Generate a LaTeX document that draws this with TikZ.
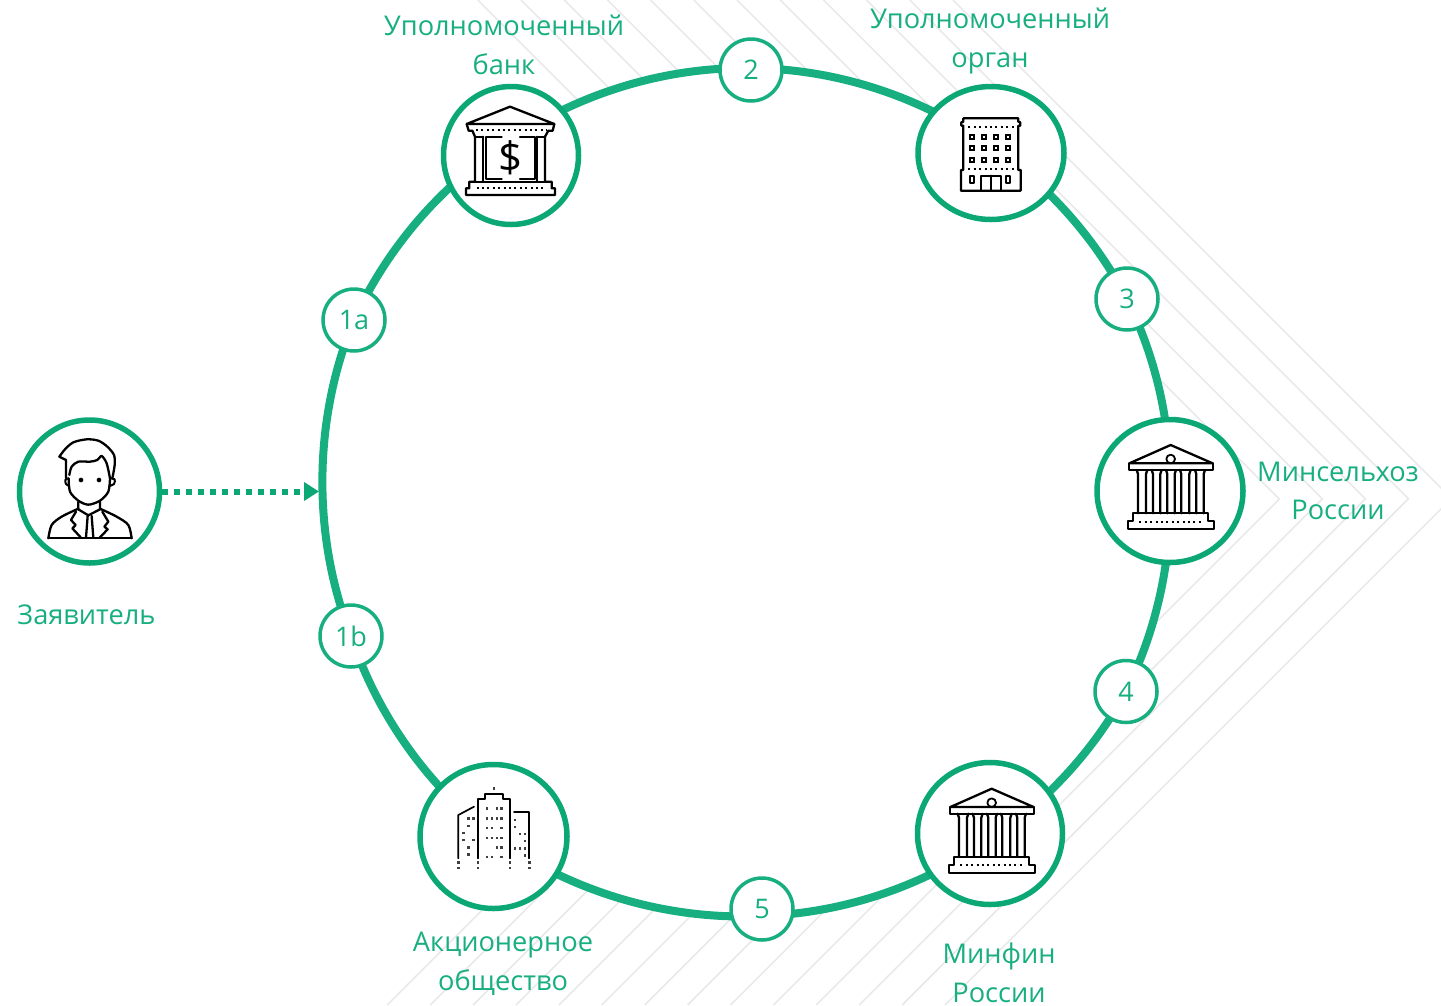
\documentclass[tikz,border=0pt]{standalone}
\usepackage{fontspec}
\setmainfont{Open Sans}
\usetikzlibrary{shapes.geometric,arrows.meta}
\pgfdeclarelayer{hatchlayer}
\pgfdeclarelayer{connlayer}
\pgfsetlayers{hatchlayer,connlayer,main}
\definecolor{gr}{HTML}{0BA876}
\definecolor{grl}{HTML}{17AE80}
\definecolor{hatchc}{HTML}{E9E9E9}
\tikzset{
  bigring/.style={ellipse,draw=gr,fill=white,line width=5.5pt,inner sep=0pt},
  smallring/.style={circle,draw=grl,fill=white,line width=3.5pt,inner sep=0pt,minimum size=62pt,text=grl,font=\fontsize{27}{30}\selectfont},
  lbl/.style={text=grl,align=center,inner sep=0pt,font=\fontsize{27.2}{38.5}\selectfont},
  ringarc/.style={grl,line width=8pt},
  ic/.style={line width=2.3pt,black,line join=round,line cap=round},
  icondots/.style={black,line width=2pt,dash pattern=on 2pt off 3.4pt},
}
\newcommand{\templeicon}[2]{%
  \begin{scope}[shift={(#1,#2)},scale=1/3]
    \draw[ic] (118,160) -- (242,105) -- (368,160) -- cycle;
    \draw[ic] (118,160) -- (118,180) -- (368,180) -- (368,160);
    \draw[ic,line width=1.8pt] (242,147) circle[radius=13];
    \foreach \xa/\xb in {140/172,185/215,228/258,270/302,315/345}{
      \draw[ic] (\xa,180) -- (\xa+4,192) -- (\xa+4,310);
      \draw[ic] (\xb,180) -- (\xb-4,192) -- (\xb-4,310);
    }
    \draw[ic] (130,310) -- (355,310) -- (355,333) -- (372,333) -- (372,357) -- (115,357) -- (115,333) -- (130,333) -- cycle;
    \draw[icondots] (148,335) -- (338,335);
  \end{scope}}
\begin{document}
\begin{tikzpicture}[x=1pt,y=-1pt]
\useasboundingbox (0,0) rectangle (1441,1005);

% background hatch
\begin{pgfonlayer}{hatchlayer}
  \begin{scope}
    \clip (0,0) rectangle (1441,1005);
    \foreach \k in {0,...,11}{
      \pgfmathsetmacro{\s}{1950-42.9*\k}
      \pgfmathsetmacro{\d}{953-43.2*\k}
      \pgfmathsetmacro{\ax}{(\s+\d)/2}
      \pgfmathsetmacro{\ay}{(\s-\d)/2}
      \pgfmathsetmacro{\bx}{\s-1005}
      \draw[hatchc,line width=1.6pt] (\d,0) -- (\ax,\ay) -- (\bx,1005);
    }
    \foreach \k in {12,13}{
      \pgfmathsetmacro{\s}{1950-42.9*\k}
      \pgfmathsetmacro{\bx}{\s-1005}
      \pgfmathsetmacro{\tx}{\s-500}
      \draw[hatchc,line width=1.6pt] (\tx,500) -- (\bx,1005);
    }
    \fill[white] (746,492) circle[radius=424];
  \end{scope}
\end{pgfonlayer}

% main nodes
\node[bigring,minimum width=135pt,minimum height=138pt] (bank) at (511,155.5) {};
\node[bigring,minimum width=146pt,minimum height=133pt] (organ) at (991,153) {};
\node[bigring,minimum width=146pt,minimum height=143pt] (selhoz) at (1170,491) {};
\node[bigring,minimum width=145pt,minimum height=142pt] (minfin) at (990,833.5) {};
\node[bigring,minimum width=147pt,minimum height=144pt] (akc) at (493.5,836.5) {};
\node[bigring,minimum width=140pt,minimum height=143pt] (user) at (89.5,491.5) {};

\node[smallring] (n1a) at (354,320) {1a};
\node[smallring] (n1b) at (351,636) {1b};
\node[smallring] (n2) at (751,70) {2};
\node[smallring] (n3) at (1127,299) {3};
\node[smallring] (n4) at (1126,691.5) {4};
\node[smallring] (n5) at (762,909) {5};

% ring connectors
\begin{pgfonlayer}{connlayer}
  \coordinate (rbank) at ([shift={(-8,-10.5)}]bank.center);
  \coordinate (rorgan) at ([shift={(3.6,-4.4)}]organ.center);
  \coordinate (rminfin) at ([shift={(3,4)}]minfin.center);
  \coordinate (rfive) at ([shift={(0,7)}]n5.center);
  \coordinate (rtwo) at ([shift={(0,-2)}]n2.center);
  \draw[ringarc] (n1a.center) to[bend left=15.6,looseness=.87] (rbank);
  \draw[ringarc] (rbank) to[bend left=17.9,looseness=.87] (rtwo);
  \draw[ringarc] (rtwo) to[bend left=17.6,looseness=.87] (rorgan);
  \draw[ringarc] (rorgan) to[bend left=13.6,looseness=.87] (n3.center);
  \draw[ringarc] (n3.center) to[bend left=13.5,looseness=.87] (selhoz.center);
  \draw[ringarc] (selhoz.center) to[bend left=13.9,looseness=.87] (n4.center);
  \draw[ringarc] (n4.center) to[bend left=13.4,looseness=.87] (rminfin);
  \draw[ringarc] (rminfin) to[bend left=16.7,looseness=.87] (rfive);
  \draw[ringarc] (rfive) to[bend left=19.2,looseness=.87] (akc.center);
  \draw[ringarc] (akc.center) to[bend left=16.9,looseness=.87] (n1b.center);
  \draw[ringarc] (n1b.center) to[bend left=21.9,looseness=.87] (n1a.center);
\end{pgfonlayer}

% arrow from the applicant to the ring
\coordinate (ringpt) at (319,491.5);
\draw[gr,line width=6pt,dash pattern=on 6pt off 6pt,-{Triangle[width=18pt,length=15pt]}] (user.east) -- (ringpt);

% labels
\node[lbl] (tbank) at (504,45) {Уполномоченный\\банк};
\node[lbl] (torgan) at (990,41) {Уполномоченный\\орган};
\node[lbl] (tselhoz) at (1338,491) {Минсельхоз\\России};
\node[lbl] (tuser) at (86.5,615) {Заявитель};
\node[lbl] (takc) at (503,963.5) {Акционерное\\общество};
\node[lbl] (tminfin) at (999,973) {Минфин\\России};

% bank icon
\begin{scope}[shift={(430,0)},scale=1/3]
  \draw[ic] (110,372) -- (240,320) -- (373,372) -- cycle;
  \draw[ic] (110,372) -- (116,392) -- (127,392) -- (135,410) -- (135,545) -- (118,545) -- (118,565) -- (108,565) -- (108,585) -- (375,585) -- (375,565) -- (365,565) -- (365,545) -- (345,545) -- (345,410) -- (355,392) -- (368,392) -- (373,372);
  \draw[ic] (160,410) -- (160,545);
  \draw[ic] (320,410) -- (345,410);
  \draw[ic] (135,410) -- (160,410);
  \draw[ic] (135,545) -- (345,545);
  \draw[ic] (322,410) -- (322,545);
  \draw[ic] (215,410) -- (168,410) -- (168,538) -- (215,538);
  \draw[ic] (270,410) -- (314,410) -- (314,538) -- (270,538);
  \draw[icondots] (138,391) -- (352,391);
  \draw[icondots] (140,563) -- (350,563);
  \node[inner sep=0pt,font=\fontsize{42}{42}\selectfont] (dollar) at (241,474) {\$};
\end{scope}

% authority icon
\begin{scope}[shift={(910,80)},scale=1/3]
  \draw[ic] (160,115) -- (325,115) -- (325,125) -- (331,127) -- (331,137) -- (325,137) -- (325,270) -- (332,270) -- (332,332) -- (153,332) -- (153,270) -- (160,270) -- (160,137) -- (154,137) -- (154,127) -- (160,125) -- cycle;
  \draw[icondots] (175,142) -- (312,142);
  \draw[icondots] (175,268) -- (312,268);
  \foreach \x in {187,223,259,295}\foreach \y in {170,205,240}{
    \draw[black,line width=2.2pt] (\x-6,\y-6) rectangle (\x+6,\y+6);
  }
  \draw[ic,line width=1.8pt] (181,287) rectangle (193,308);
  \draw[ic,line width=1.8pt] (289,287) rectangle (301,308);
  \draw[ic] (212,332) -- (212,287) -- (272,287) -- (272,332);
  \draw[ic] (242,287) -- (242,332);
\end{scope}

% ministry icons
\templeicon{1090}{410}
\templeicon{911}{753.7}

% applicant icon
\begin{scope}[shift={(10,410)},scale=1/3]
  \draw[ic] plot[smooth] coordinates {(148,140) (165,118) (190,97) (230,88) (265,92) (292,110) (312,135) (314,165) (307,205)};
  \draw[ic] (148,140) -- (168,150) -- (168,205);
  \draw[ic] plot[smooth] coordinates {(178,195) (185,170) (205,155) (240,155) (262,150) (275,138) (290,160) (300,205)};
  \draw[ic] plot[smooth] coordinates {(176,205) (180,245) (205,272) (235,284) (270,272) (295,245) (300,205)};
  \draw[ic,line width=2pt] plot[smooth] coordinates {(175,205) (166,210) (168,222) (178,228)};
  \draw[ic,line width=2pt] plot[smooth] coordinates {(300,205) (314,208) (312,222) (298,228)};
  \fill (213,210) circle[radius=7];
  \fill (267,210) circle[radius=7];
  \draw[ic] (205,275) -- (205,298) -- (235,316) -- (270,298) -- (270,275);
  \draw[ic] plot[smooth] coordinates {(205,296) (155,320) (125,345) (115,385)};
  \draw[ic] plot[smooth] coordinates {(270,296) (320,320) (355,345) (365,385)};
  \draw[ic] (115,385) -- (365,385);
  \draw[ic] (198,305) -- (183,330) -- (197,345) -- (187,355) -- (212,382);
  \draw[ic] (277,305) -- (295,335) -- (283,350) -- (293,358) -- (270,382);
  \draw[ic] (233,318) -- (228,383);
  \draw[ic] (245,318) -- (250,383);
\end{scope}

% business-centre icon
\begin{scope}[shift={(410,755)},scale=1/3]
  \draw[ic,line width=1.7pt] (145,310) -- (145,180) -- (192,155);
  \draw[ic,line width=1.7pt] (204,310) -- (204,132) -- (225,132) -- (225,118) -- (278,118) -- (278,132) -- (300,132) -- (300,310);
  \draw[ic,line width=1.7pt] (312,172) -- (358,172) -- (358,310);
  \foreach \x/\y in {145/322,145/338,204/322,204/338,300/322,300/338,358/322,358/338,252/100,
    230/160,260/160,274/160,230/190,245/190,260/190,274/190,230/219,245/219,274/219,
    230/248,245/248,260/248,274/248,260/277,274/277,230/305,245/305,274/305,
    175/190,190/190,175/212,160/234,160/255,190/255,175/277,175/298,
    314/194,314/215,329/237,344/237,344/258,314/280,329/280,344/280,344/301}{
    \fill[black!75] (\x-3.5,\y-3.5) rectangle (\x+3.5,\y+3.5);
  }
\end{scope}
\end{tikzpicture}
\end{document}
